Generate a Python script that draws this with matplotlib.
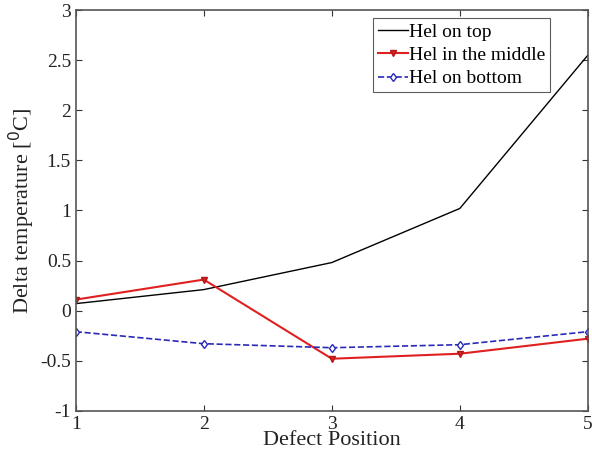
import matplotlib
matplotlib.use("Agg")
import matplotlib.pyplot as plt

positions = [1, 2, 3, 4, 5]
hel_top = [0.07, 0.21, 0.48, 1.02, 2.55]
hel_middle = [0.11, 0.31, -0.48, -0.43, -0.28]
hel_bottom = [-0.21, -0.33, -0.37, -0.34, -0.21]

y_ticks = [-1, -0.5, 0, 0.5, 1, 1.5, 2, 2.5, 3]
y_labels = ["-1", "-0.5", "0", "0.5", "1", "1.5", "2", "2.5", "3"]

plt.rcParams['font.family'] = ['Liberation Serif', 'DejaVu Serif']

fig = plt.figure(figsize=(5.92, 4.58), dpi=100)
ax = fig.add_axes([0.128, 0.103, 0.865, 0.875])

ax.plot(positions, hel_top, '-', color='black', linewidth=1.0, label='Hel on top')
ax.plot(positions, hel_middle, '-', color='#e02020', linewidth=1.5, marker='v',
        markersize=5, markerfacecolor='#e02020', markeredgecolor='#b01818',
        label='Hel in the middle')
ax.plot(positions, hel_bottom, '--', color='#2a2ab8', linewidth=1.2, marker='d',
        markersize=4.5, markerfacecolor='white', markeredgecolor='#2a2ab8',
        label='Hel on bottom')

ax.set_xlim(1, 5)
ax.set_ylim(-1, 3)
ax.set_xticks(positions)
ax.set_yticks(y_ticks)
ax.set_yticklabels(y_labels)
ax.tick_params(direction='in', top=True, right=True, labelsize=14,
               length=4, width=0.8, colors='#333333', labelcolor='#222222')
for s in ax.spines.values():
    s.set_color('#555555')
    s.set_linewidth(1.2)

ax.set_xlabel('Defect Position', fontsize=16, labelpad=-1, color='#222222')
ax.set_ylabel('Delta temperature [$^{0}$C]', fontsize=16, labelpad=2, color='#222222')

leg = ax.legend(loc='upper right', bbox_to_anchor=(0.926, 0.98), fontsize=14,
                frameon=True, fancybox=False, edgecolor='#333333',
                handlelength=1.55, handletextpad=0.05, borderpad=0.25,
                labelspacing=0.3, borderaxespad=0.0)
leg.get_frame().set_linewidth(0.8)

fig.savefig('out.png', dpi=100)
